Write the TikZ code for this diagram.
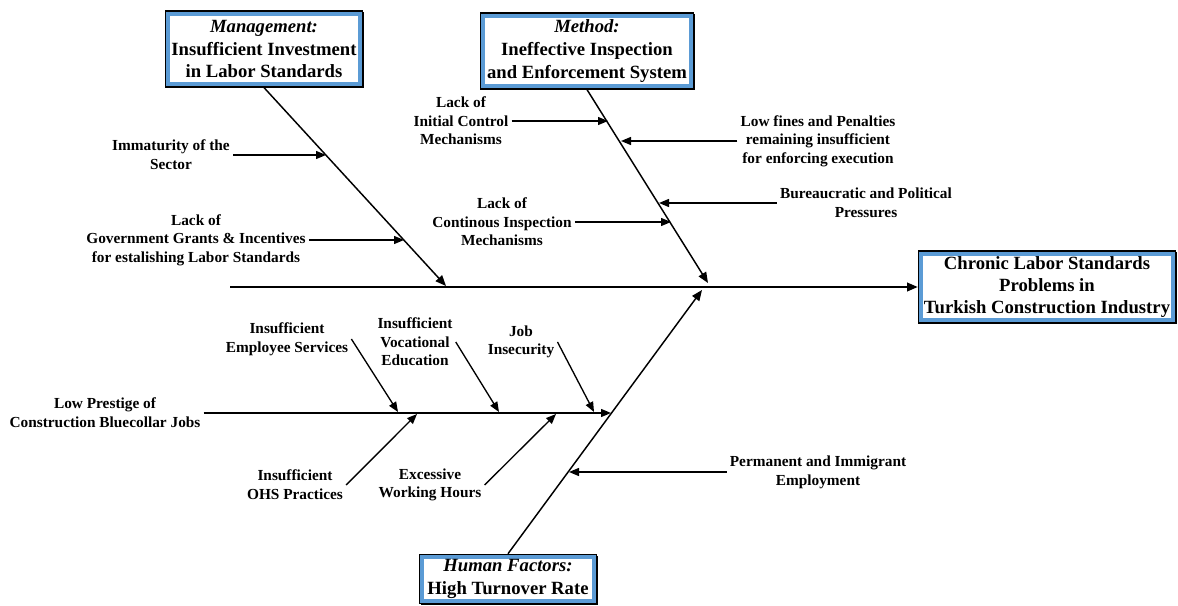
\documentclass[tikz,border=0pt]{standalone}
\usepackage{fontspec}
\setmainfont{Liberation Serif}
\usepackage{tikz}
\usetikzlibrary{arrows.meta,shadows}
\definecolor{boxblue}{RGB}{91,155,213}
\tikzset{
  every picture/.style={line width=0.9pt},
  catbox/.style={draw=black, line width=0.9pt, fill=white, align=center,
    font=\bfseries\fontsize{14}{17}\selectfont, inner sep=2pt,
    drop shadow={shadow xshift=0.9pt, shadow yshift=-0.9pt, fill=black, opacity=1},
    path picture={\draw[boxblue, line width=3pt]
      ([shift={(2pt,2pt)}]path picture bounding box.south west) rectangle
      ([shift={(-2pt,-2pt)}]path picture bounding box.north east);}},
  cause/.style={align=center, font=\bfseries\fontsize{11.5}{14}\selectfont, inner sep=2pt},
  bone/.style={-{Triangle[length=8pt,width=6.5pt]}, line width=1.1pt},
  rib/.style={-{Triangle[length=7.5pt,width=6pt]}, line width=1pt}
}

\begin{document}
\begin{tikzpicture}[x=0.75pt,y=-0.75pt]
    \useasboundingbox (0,0) rectangle (1178,606);

    % category boxes
    \node[catbox, minimum width=148pt, minimum height=57pt] (mgmt) at (264,49)
        {\textit{Management:}\\Insufficient Investment\\in Labor Standards};
    \node[catbox, minimum width=160pt, minimum height=57pt] (method) at (587,51)
        {\textit{Method:}\\Ineffective Inspection\\and Enforcement System};
    \node[catbox, minimum width=133pt, minimum height=37pt] (human) at (508,579)
        {\textit{Human Factors:}\\High Turnover Rate};
    \node[catbox, minimum width=193pt, minimum height=54pt,
          font=\bfseries\fontsize{14}{16.5}\selectfont] (effect) at (1047,287)
        {Chronic Labor Standards\\Problems in\\Turkish Construction Industry};

    % spine and main bones
    \coordinate (tail) at (230,287);
    \coordinate (mgmtTip) at (446,286);
    \coordinate (methodTip) at (708,283);
    \coordinate (humanTip) at (702,290);
    \draw[bone, line width=1.3pt] (tail) -- (effect.west);
    \draw[bone] (mgmt.south) -- (mgmtTip);
    \draw[bone] (method.south) -- (methodTip);
    \draw[bone] (human.north) -- (humanTip);

    % management causes
    \node[cause] (immat) at (171,155) {Immaturity of the\\Sector};
    \node[cause] (grants) at (196,240) {Lack of\\Government Grants \& Incentives\\for estalishing Labor Standards};
    \coordinate (m1) at (326,155);
    \coordinate (m2) at (404,240);
    \draw[rib] (immat.east) -- (m1);
    \draw[rib] (grants.east) -- (m2);

    % method causes
    \node[cause] (initCtrl) at (461,121) {Lack of\\Initial Control\\Mechanisms};
    \node[cause] (contInsp) at (502,222) {Lack of\\Continous Inspection\\Mechanisms};
    \node[cause] (lowFines) at (818,141) {Low fines and Penalties\\remaining insufficient\\for enforcing execution};
    \node[cause] (bureau) at (866,203) {Bureaucratic and Political\\Pressures};
    \coordinate (t1) at (608,121);
    \coordinate (t2) at (671,222);
    \coordinate (t3) at (621,141);
    \coordinate (t4) at (659,203);
    \draw[rib] (initCtrl.east) -- (t1);
    \draw[rib] (contInsp.east) -- (t2);
    \draw[rib] (lowFines.west) -- (t3);
    \draw[rib] (bureau.west) -- (t4);

    % human factors causes
    \node[cause] (prestige) at (105,413) {Low Prestige of\\Construction Bluecollar Jobs};
    \node[cause] (permImm) at (818,472) {Permanent and Immigrant\\Employment};
    \coordinate (h1) at (611,413);
    \coordinate (h2) at (569,472);
    \draw[rib] (prestige.east) -- (h1);
    \draw[rib] (permImm.west) -- (h2);

    % causes on the prestige branch
    \node[cause] (empServ) at (287,339) {Insufficient\\Employee Services};
    \node[cause] (vocEdu) at (415,342) {Insufficient\\Vocational\\Education};
    \node[cause] (jobIns) at (521,342) {Job\\Insecurity};
    \node[cause] (ohs) at (295,485) {Insufficient\\OHS Practices};
    \node[cause] (excHours) at (430,485) {Excessive\\Working Hours};
    \coordinate (p1) at (398,412);
    \coordinate (p2) at (499,412);
    \coordinate (p3) at (594,412);
    \coordinate (p4) at (417,414);
    \coordinate (p5) at (556,414);
    \draw[rib] (empServ.east) -- (p1);
    \draw[rib] (vocEdu.east) -- (p2);
    \draw[rib] (jobIns.east) -- (p3);
    \draw[rib] (ohs.east) -- (p4);
    \draw[rib] (excHours.east) -- (p5);
\end{tikzpicture}
\end{document}
